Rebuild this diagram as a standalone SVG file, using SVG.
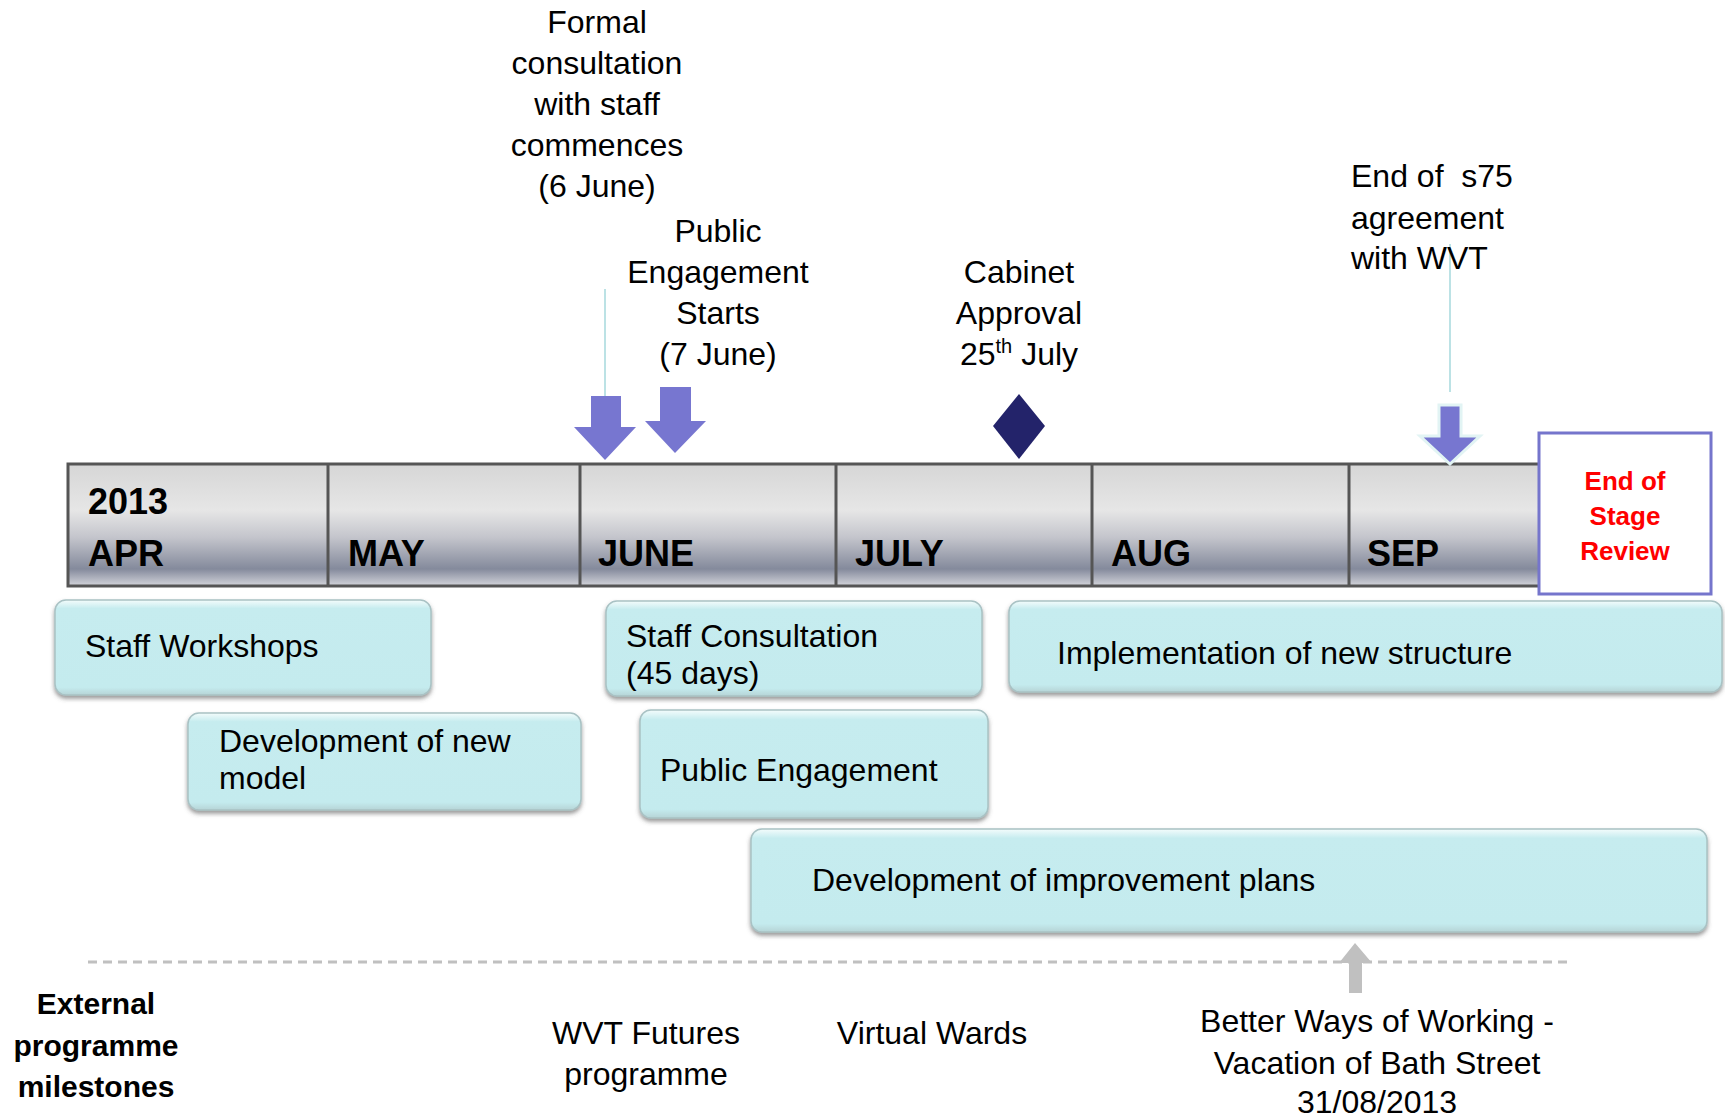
<svg xmlns="http://www.w3.org/2000/svg" width="1725" height="1118" viewBox="0 0 1725 1118">
<defs>
<linearGradient id="barg" x1="0" y1="0" x2="0" y2="1">
<stop offset="0" stop-color="#d6d6d6"/>
<stop offset="0.38" stop-color="#e6e6e6"/>
<stop offset="0.6" stop-color="#c4c5cc"/>
<stop offset="0.86" stop-color="#848a9c"/>
<stop offset="1" stop-color="#d4d5db"/>
</linearGradient>
<linearGradient id="boxg" x1="0" y1="0" x2="0" y2="1">
<stop offset="0" stop-color="#f4fcfc"/>
<stop offset="0.09" stop-color="#c6ecef"/>
<stop offset="0.92" stop-color="#c4ebee"/>
<stop offset="1" stop-color="#b6d4d6"/>
</linearGradient>
<filter id="sh" x="-5%" y="-10%" width="110%" height="130%">
<feDropShadow dx="0" dy="3" stdDeviation="2" flood-color="#555" flood-opacity="0.6"/>
</filter>
</defs>
<style>
.t{font-family:"Liberation Sans",Arial,sans-serif;font-size:32px;fill:#000}
.c{text-anchor:middle}
.m{font-family:"Liberation Sans",Arial,sans-serif;font-size:36px;font-weight:bold;fill:#000}
.box{fill:url(#boxg);stroke:#a9c2c4;stroke-width:1.5;filter:url(#sh)}
.arr{fill:#7776d0}
.lead{stroke:#a6d8dc;stroke-width:1.5;fill:none}
.div{stroke:#555;stroke-width:3}
</style>
<rect width="1725" height="1118" fill="#fff"/>

<g id="connectors">
<line class="lead" x1="605" y1="289" x2="605" y2="397"/>
<line class="lead" x1="1450" y1="244" x2="1450" y2="392"/>
<line x1="88" y1="962" x2="1571" y2="962" stroke="#c0c0c0" stroke-width="3" stroke-dasharray="9,6"/>
</g>

<g id="timeline">
<rect x="68" y="464" width="1472" height="122" fill="url(#barg)" stroke="#555" stroke-width="3"/>
<line class="div" x1="328" y1="464" x2="328" y2="586"/>
<line class="div" x1="580" y1="464" x2="580" y2="586"/>
<line class="div" x1="836" y1="464" x2="836" y2="586"/>
<line class="div" x1="1092" y1="464" x2="1092" y2="586"/>
<line class="div" x1="1349" y1="464" x2="1349" y2="586"/>
<text class="m" x="88" y="514" font-size="38">2013</text>
<text class="m" x="88" y="566">APR</text>
<text class="m" x="348" y="566">MAY</text>
<text class="m" x="598" y="566">JUNE</text>
<text class="m" x="855" y="566">JULY</text>
<text class="m" x="1111" y="566">AUG</text>
<text class="m" x="1367" y="566">SEP</text>
</g>

<g id="end-of-stage">
<rect x="1539" y="433" width="172" height="161" fill="#fff" stroke="#7575cc" stroke-width="3"/>
<text class="c" x="1625" y="490" font-family="Liberation Sans,Arial,sans-serif" font-size="26" font-weight="bold" fill="#ff0000">End of</text>
<text class="c" x="1625" y="525" font-family="Liberation Sans,Arial,sans-serif" font-size="26" font-weight="bold" fill="#ff0000">Stage</text>
<text class="c" x="1625" y="560" font-family="Liberation Sans,Arial,sans-serif" font-size="26" font-weight="bold" fill="#ff0000">Review</text>
</g>

<g id="formal-consultation">
<polygon class="arr" points="591,396 621,396 621,427 636,427 605,460 574,427 591,427"/>
<text class="t c" x="597" y="33">Formal</text>
<text class="t c" x="597" y="74">consultation</text>
<text class="t c" x="597" y="115">with staff</text>
<text class="t c" x="597" y="156">commences</text>
<text class="t c" x="597" y="197">(6 June)</text>
</g>

<g id="public-engagement-starts">
<polygon class="arr" points="660,387 691,387 691,421 706,421 675,453 645,421 660,421"/>
<text class="t c" x="718" y="242">Public</text>
<text class="t c" x="718" y="283">Engagement</text>
<text class="t c" x="718" y="324">Starts</text>
<text class="t c" x="718" y="365">(7 June)</text>
</g>

<g id="cabinet-approval">
<polygon points="1019,394 1045,426 1019,459 993,426" fill="#23236a"/>
<text class="t c" x="1019" y="283">Cabinet</text>
<text class="t c" x="1019" y="324">Approval</text>
<text class="t c" x="1019" y="365">25<tspan font-size="20" dy="-12">th</tspan><tspan dy="12"> July</tspan></text>
</g>

<g id="end-s75">
<polygon class="arr" points="1439,405 1461,405 1461,436 1480,436 1450,464 1420,436 1439,436" stroke="#e2f4f4" stroke-width="3"/>
<text class="t" x="1351" y="187" xml:space="preserve" style="white-space:pre">End of  s75</text>
<text class="t" x="1351" y="229">agreement</text>
<text class="t" x="1351" y="269">with WVT</text>
</g>

<g id="staff-workshops">
<rect class="box" x="55" y="600" width="376" height="95" rx="11"/>
<text class="t" x="85" y="657">Staff Workshops</text>
</g>

<g id="dev-new-model">
<rect class="box" x="188" y="713" width="393" height="97" rx="11"/>
<text class="t" x="219" y="752">Development of new</text>
<text class="t" x="219" y="789">model</text>
</g>

<g id="staff-consultation">
<rect class="box" x="606" y="601" width="376" height="95" rx="11"/>
<text class="t" x="626" y="647">Staff Consultation</text>
<text class="t" x="626" y="684">(45 days)</text>
</g>

<g id="public-engagement">
<rect class="box" x="640" y="710" width="348" height="108" rx="11"/>
<text class="t" x="660" y="781">Public Engagement</text>
</g>

<g id="implementation">
<rect class="box" x="1009" y="601" width="713" height="91" rx="11"/>
<text class="t" x="1057" y="664">Implementation of new structure</text>
</g>

<g id="dev-improvement">
<rect class="box" x="751" y="829" width="956" height="103" rx="11"/>
<text class="t" x="812" y="891">Development of improvement plans</text>
</g>

<g id="external-label">
<text class="c" x="96" y="1014" font-family="Liberation Sans,Arial,sans-serif" font-size="30" font-weight="bold">External</text>
<text class="c" x="96" y="1056" font-family="Liberation Sans,Arial,sans-serif" font-size="30" font-weight="bold">programme</text>
<text class="c" x="96" y="1097" font-family="Liberation Sans,Arial,sans-serif" font-size="30" font-weight="bold">milestones</text>
</g>

<g id="wvt-futures">
<text class="t c" x="646" y="1044">WVT Futures</text>
<text class="t c" x="646" y="1085">programme</text>
</g>

<g id="virtual-wards">
<text class="t c" x="932" y="1044">Virtual Wards</text>
</g>

<g id="better-ways">
<polygon points="1349,993 1362,993 1362,963 1372,963 1355,943 1339,963 1349,963" fill="#c0c0c0"/>
<text class="t c" x="1377" y="1032">Better Ways of Working -</text>
<text class="t c" x="1377" y="1074">Vacation of Bath Street</text>
<text class="t c" x="1377" y="1113">31/08/2013</text>
</g>
</svg>
